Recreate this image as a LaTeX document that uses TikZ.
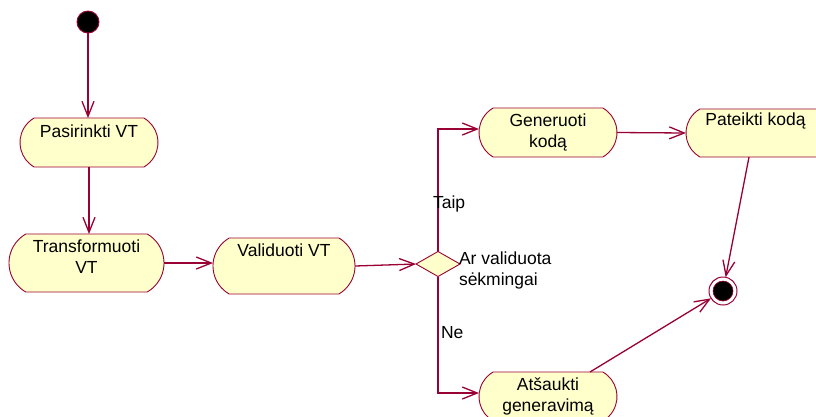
\documentclass[tikz,border=0pt]{standalone}
\usepackage{fontspec}
\setmainfont{Liberation Sans}
\usetikzlibrary{shapes.misc,shapes.geometric,arrows.meta,calc}
\definecolor{flow}{HTML}{990033}
\definecolor{actfill}{HTML}{FFFFCC}
\newcommand\actlines[2]{\begin{tabular}[t]{@{}c@{}}#1\\#2\end{tabular}}
\newcommand\leftlines[2]{\begin{tabular}[t]{@{}l@{}}#1\\#2\end{tabular}}
\begin{document}
\begin{tikzpicture}[x=1pt,y=-1pt,
  every node/.style={font=\fontsize{17.5}{21}\selectfont, inner sep=0pt, outer sep=0pt},
  act/.style={rounded rectangle, rounded rectangle arc length=120,
    draw=flow, line width=0.9pt, fill=actfill, text height=13pt},
  guard/.style={anchor=base west},
  conn/.style={draw=flow, line width=1.3pt,
    -{Straight Barb[length=15pt,width=12pt,line width=1.3pt]}}]
\useasboundingbox (0,0) rectangle (816,416);

% initial and final states
\node[circle, draw=flow, fill=black, line width=0.9pt, minimum size=22pt] (start) at (88,22) {};
\node[circle, draw=flow, fill=white, line width=1pt, minimum size=28pt] (end) at (723,291) {};
\filldraw[draw=flow, fill=black, line width=0.6pt] (end.center) circle (10);

% activities
\node[act, minimum width=138pt, minimum height=49pt, text depth=24pt] (pas) at (89,142.5) {Pasirinkti VT};
\node[act, minimum width=155pt, minimum height=58pt, text depth=33.6pt] (tra) at (86.5,263) {\actlines{Transformuoti}{VT}};
\node[act, minimum width=142pt, minimum height=56pt, text depth=31.6pt] (val) at (284,266) {Validuoti VT};
\node[act, minimum width=138pt, minimum height=49pt, text depth=24.6pt] (gen) at (548,132.5) {\actlines{Generuoti}{kodą}};
\node[act, minimum width=146pt, minimum height=48pt, text depth=29pt] (pat) at (759,133) {\hspace*{-7pt}Pateikti kodą};
\node[act, minimum width=138pt, minimum height=49pt, text depth=26pt] (ats) at (548,396.5) {\actlines{Atšaukti}{generavimą}};

% decision
\node[diamond, draw=flow, fill=actfill, line width=0.9pt, minimum width=44pt, minimum height=25pt] (dia) at (438,264) {};
\node[guard] (q) at (459,264) {\leftlines{Ar validuota}{sėkmingai}};

% transitions
\draw[conn] (start) -- (start |- pas.north);
\draw[conn] (pas.south) -- (pas.south |- tra.north);
\draw[conn] (tra.east) -- (tra.east -| val.west);
\draw[conn] (val.east) -- (dia.west);
\draw[conn] (dia.north) |- ($(gen.west)+(0,-3.5)$);
\draw[conn] (dia.south) |- ($(ats.west)+(0,-3.5)$);
\draw[conn] (gen.east) -- (pat.west);
\draw[conn] ($(pat.south)+(-10,0)$) -- (end);
\draw[conn] ($(ats.north)+(42,0)$) -- (end);

% guards
\node[guard] (taip) at (433,208) {Taip};
\node[guard] (ne) at (441,338) {Ne};
\end{tikzpicture}
\end{document}
